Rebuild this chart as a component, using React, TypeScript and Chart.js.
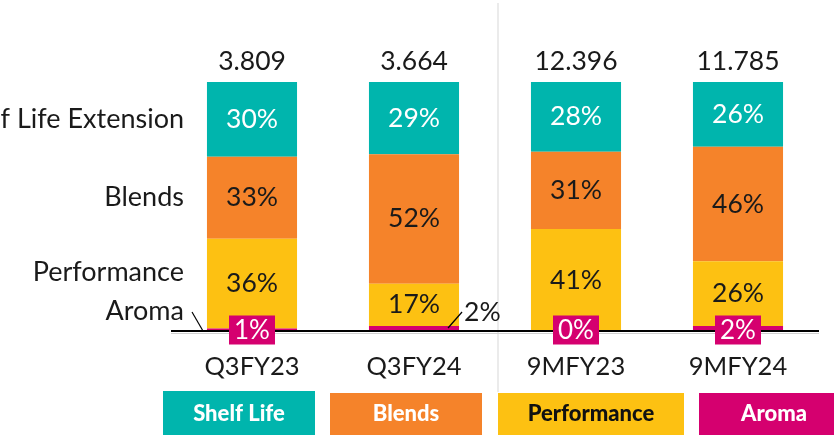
import React, { useEffect, useRef } from "react";
import { Chart, registerables } from "chart.js";

Chart.register(...registerables);

const categories = ["Q3FY23", "Q3FY24", "9MFY23", "9MFY24"];
const totals = ["3.809", "3.664", "12.396", "11.785"];
const shelfLife = [30, 29, 28, 26];
const blends = [33, 52, 31, 46];
const performance = [36, 17, 41, 26];
const aroma = [1, 2, 0, 2];
const legendNames = ["Shelf Life", "Blends", "Performance", "Aroma"];
const sideLabels = ["Shelf Life Extension", "Blends", "Performance", "Aroma"];

const TEAL = "#00B5AD";
const ORANGE = "#F5832A";
const YELLOW = "#FDC112";
const MAGENTA = "#D5006F";
const FONT = "Lato";

const overlay = {
  id: "overlay",
  afterDatasetsDraw(chart: any) {
    const ctx = chart.ctx;
    const area = chart.chartArea;
    const xs = chart.scales.x;
    const ys = chart.scales.y;
    const base = ys.getPixelForValue(0);
    ctx.save();

    // separator line between quarterly and 9M groups
    const sepX = (xs.getPixelForValue(1) + xs.getPixelForValue(2)) / 2 + 3;
    ctx.strokeStyle = "#e4e4e4";
    ctx.lineWidth = 1.5;
    ctx.beginPath();
    ctx.moveTo(sepX, 3);
    ctx.lineTo(sepX, 392);
    ctx.stroke();

    // baseline
    ctx.strokeStyle = "#d0d0d0";
    ctx.lineWidth = 1;
    ctx.beginPath();
    ctx.moveTo(area.left, base + 2.5);
    ctx.lineTo(area.right, base + 2.5);
    ctx.stroke();
    ctx.strokeStyle = "#000";
    ctx.lineWidth = 2;
    ctx.beginPath();
    ctx.moveTo(area.left, base);
    ctx.lineTo(area.right, base);
    ctx.stroke();

    const stacks = [shelfLife, blends, performance, aroma];
    const segCenter = (i: number, s: number) => {
      let lower = 0;
      for (let k = 3; k > s; k--) lower += stacks[k][i];
      const upper = lower + stacks[s][i];
      return (ys.getPixelForValue(lower) + ys.getPixelForValue(upper)) / 2;
    };

    // side labels
    ctx.font = `27px ${FONT}`;
    ctx.fillStyle = "#1a1a1a";
    ctx.textAlign = "right";
    ctx.textBaseline = "middle";
    const lx = area.left + 13;
    ctx.fillText(sideLabels[0], lx, segCenter(0, 0));
    ctx.fillText(sideLabels[1], lx, segCenter(0, 1));
    ctx.fillText(sideLabels[2], lx, base - 59);
    ctx.fillText(sideLabels[3], lx, base - 20);
    ctx.strokeStyle = "#000";
    ctx.lineWidth = 1.2;
    ctx.beginPath();
    ctx.moveTo(lx + 8, base - 19);
    ctx.lineTo(lx + 19, base);
    ctx.stroke();

    categories.forEach((c, i) => {
      const cx = xs.getPixelForValue(i);
      ctx.textAlign = "center";
      ctx.textBaseline = "middle";
      // totals
      ctx.font = `26.5px ${FONT}`;
      ctx.fillStyle = "#1a1a1a";
      ctx.fillText(totals[i], cx, ys.getPixelForValue(100) - 21);

      // segment labels
      ctx.fillStyle = "#fff";
      ctx.fillText(shelfLife[i] + "%", cx, segCenter(i, 0));
      ctx.fillStyle = "#1a1a1a";
      ctx.fillText(blends[i] + "%", cx, segCenter(i, 1));
      ctx.fillText(performance[i] + "%", cx, segCenter(i, 2));

      // aroma
      if (i === 1) {
        const meta = chart.getDatasetMeta(0).data[i];
        const right = meta.x + meta.width / 2;
        ctx.strokeStyle = "#000";
        ctx.lineWidth = 1.2;
        ctx.beginPath();
        ctx.moveTo(right - 11, base - 3);
        ctx.lineTo(right + 3, base - 19);
        ctx.stroke();
        ctx.fillStyle = "#1a1a1a";
        ctx.textAlign = "left";
        ctx.fillText(aroma[i] + "%", right + 5, base - 19);
      } else {
        const w = 46, h = 29;
        const cy = base - 1;
        ctx.fillStyle = MAGENTA;
        ctx.fillRect(cx - w / 2, cy - h / 2, w, h);
        ctx.fillStyle = "#fff";
        ctx.textAlign = "center";
        ctx.font = `26px ${FONT}`;
        ctx.fillText(aroma[i] + "%", cx, cy + 1);
      }

      // category label
      ctx.fillStyle = "#1a1a1a";
      ctx.textAlign = "center";
      ctx.font = `25.5px ${FONT}`;
      ctx.fillText(c, cx, base + 36);
    });

    // legend boxes
    const boxes = [
      { x: 163, w: 152, color: TEAL, text: "#fff", y: 391 },
      { x: 330, w: 152, color: ORANGE, text: "#fff", y: 393 },
      { x: 498, w: 186, color: YELLOW, text: "#111", y: 393 },
      { x: 699, w: 140, color: MAGENTA, text: "#fff", y: 393 },
    ];
    ctx.font = `900 22px ${FONT}`;
    ctx.textAlign = "center";
    ctx.textBaseline = "middle";
    boxes.forEach((b, i) => {
      ctx.fillStyle = b.color;
      ctx.fillRect(b.x, b.y, b.w, 435 - b.y + 5);
      ctx.fillStyle = b.text;
      const tx = i === 3 ? b.x + 75 : b.x + b.w / 2;
      ctx.fillText(legendNames[i], tx, 414);
    });

    ctx.restore();
  },
};

export default function App() {
  const ref = useRef<HTMLCanvasElement | null>(null);
  useEffect(() => {
    if (!ref.current) return;
    const chart = new Chart(ref.current, {
      type: "bar",
      data: {
        labels: categories,
        datasets: [
          { label: legendNames[3], data: aroma, backgroundColor: MAGENTA },
          { label: legendNames[2], data: performance, backgroundColor: YELLOW },
          { label: legendNames[1], data: blends, backgroundColor: ORANGE },
          { label: legendNames[0], data: shelfLife, backgroundColor: TEAL },
        ],
      },
      options: {
        responsive: false,
        animation: false,
        layout: { padding: { left: 171, right: 15, top: 82, bottom: 104 } },
        datasets: { bar: { barPercentage: 0.556, categoryPercentage: 1, borderWidth: 0 } },
        plugins: { legend: { display: false }, tooltip: { enabled: false } },
        scales: {
          x: { display: false, stacked: true },
          y: { display: false, stacked: true, min: 0, max: 100 },
        },
      },
      plugins: [overlay],
    });
    return () => chart.destroy();
  }, []);
  return (
    <div style={{ position: "absolute", left: 0, top: 0, width: 834, height: 435, background: "#fff" }}>
      <canvas ref={ref} width={834} height={435} style={{ display: "block" }} />
    </div>
  );
}
